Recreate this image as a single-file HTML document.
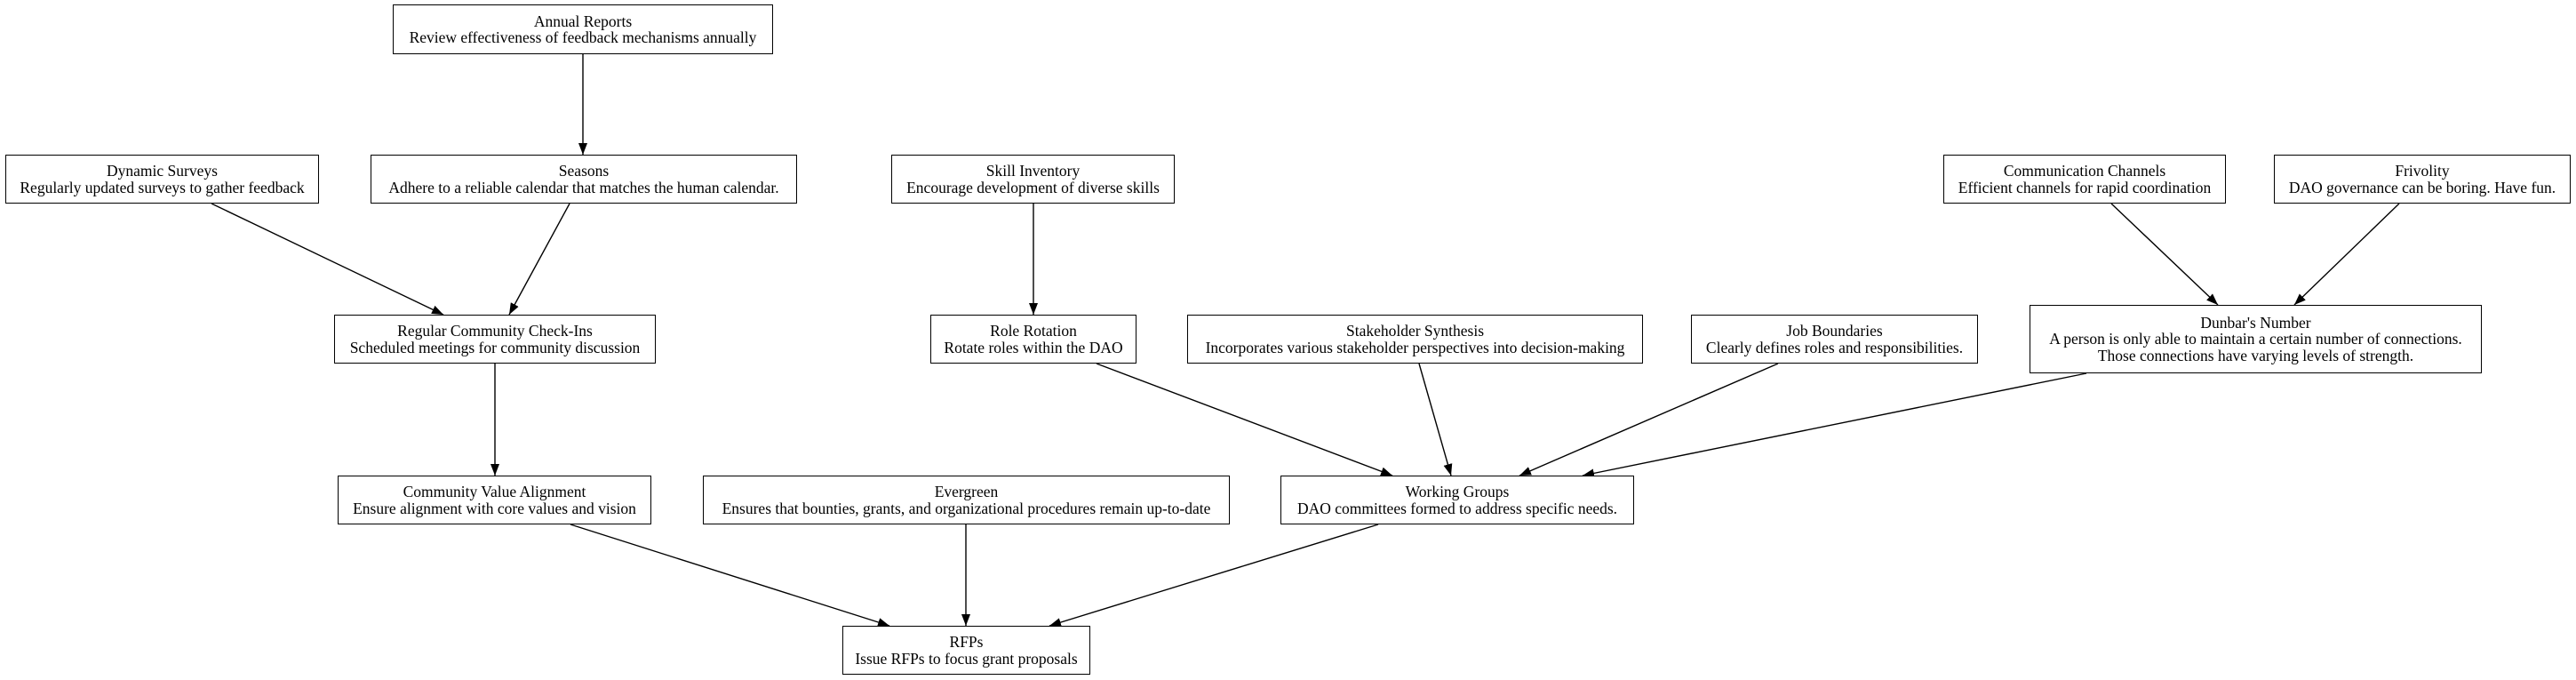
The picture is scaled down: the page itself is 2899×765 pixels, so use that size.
<!DOCTYPE html>
<html><head><meta charset="utf-8"><style>
html,body{margin:0;padding:0;background:#fff;}
.b{position:absolute;border:1.3px solid #000;box-sizing:border-box;background:#fff;display:flex;flex-direction:column;justify-content:center;align-items:center;font-family:"Liberation Serif",serif;font-size:17.5px;line-height:18.5px;text-align:center;color:#000;white-space:nowrap;}
svg{position:absolute;left:0;top:0;}
</style></head><body>
<div style="position:relative;width:2899px;height:765px;overflow:hidden;">
<svg width="2899" height="765">
<defs><marker id="a" markerUnits="userSpaceOnUse" markerWidth="14" markerHeight="10" refX="13" refY="5" orient="auto"><path d="M0,0 L13,5 L0,10 z" fill="#000"/></marker></defs>
<g stroke="#000" stroke-width="1.4" marker-end="url(#a)">
<line x1="656" y1="61" x2="656" y2="174"/>
<line x1="238" y1="229" x2="499" y2="354"/>
<line x1="641" y1="229" x2="573" y2="354"/>
<line x1="557" y1="409" x2="557" y2="535"/>
<line x1="642" y1="590" x2="1001" y2="704"/>
<line x1="1087" y1="590" x2="1087" y2="704"/>
<line x1="1551" y1="590" x2="1181" y2="704"/>
<line x1="1234" y1="409" x2="1567" y2="535"/>
<line x1="1597" y1="409" x2="1633" y2="535"/>
<line x1="2001" y1="409" x2="1710" y2="535"/>
<line x1="2348" y1="420" x2="1781" y2="535"/>
<line x1="1163" y1="229" x2="1163" y2="354"/>
<line x1="2376" y1="229" x2="2496" y2="343"/>
<line x1="2700" y1="229" x2="2582" y2="343"/>
</g></svg>
<div class="b" style="left:442px;top:5px;width:428px;height:56px;">Annual Reports<br>Review effectiveness of feedback mechanisms annually</div>
<div class="b" style="left:6px;top:174px;width:353px;height:55px;">Dynamic Surveys<br>Regularly updated surveys to gather feedback</div>
<div class="b" style="left:417px;top:174px;width:480px;height:55px;">Seasons<br>Adhere to a reliable calendar that matches the human calendar.</div>
<div class="b" style="left:1003px;top:174px;width:319px;height:55px;">Skill Inventory<br>Encourage development of diverse skills</div>
<div class="b" style="left:2187px;top:174px;width:318px;height:55px;">Communication Channels<br>Efficient channels for rapid coordination</div>
<div class="b" style="left:2559px;top:174px;width:334px;height:55px;">Frivolity<br>DAO governance can be boring. Have fun.</div>
<div class="b" style="left:376px;top:354px;width:362px;height:55px;">Regular Community Check-Ins<br>Scheduled meetings for community discussion</div>
<div class="b" style="left:1047px;top:354px;width:232px;height:55px;">Role Rotation<br>Rotate roles within the DAO</div>
<div class="b" style="left:1336px;top:354px;width:513px;height:55px;">Stakeholder Synthesis<br>Incorporates various stakeholder perspectives into decision-making</div>
<div class="b" style="left:1903px;top:354px;width:323px;height:55px;">Job Boundaries<br>Clearly defines roles and responsibilities.</div>
<div class="b" style="left:2284px;top:343px;width:509px;height:77px;">Dunbar's Number<br>A person is only able to maintain a certain number of connections.<br>Those connections have varying levels of strength.</div>
<div class="b" style="left:380px;top:535px;width:353px;height:55px;">Community Value Alignment<br>Ensure alignment with core values and vision</div>
<div class="b" style="left:791px;top:535px;width:593px;height:55px;">Evergreen<br>Ensures that bounties, grants, and organizational procedures remain up-to-date</div>
<div class="b" style="left:1441px;top:535px;width:398px;height:55px;">Working Groups<br>DAO committees formed to address specific needs.</div>
<div class="b" style="left:948px;top:704px;width:279px;height:55px;">RFPs<br>Issue RFPs to focus grant proposals</div>
</div>
</body></html>
